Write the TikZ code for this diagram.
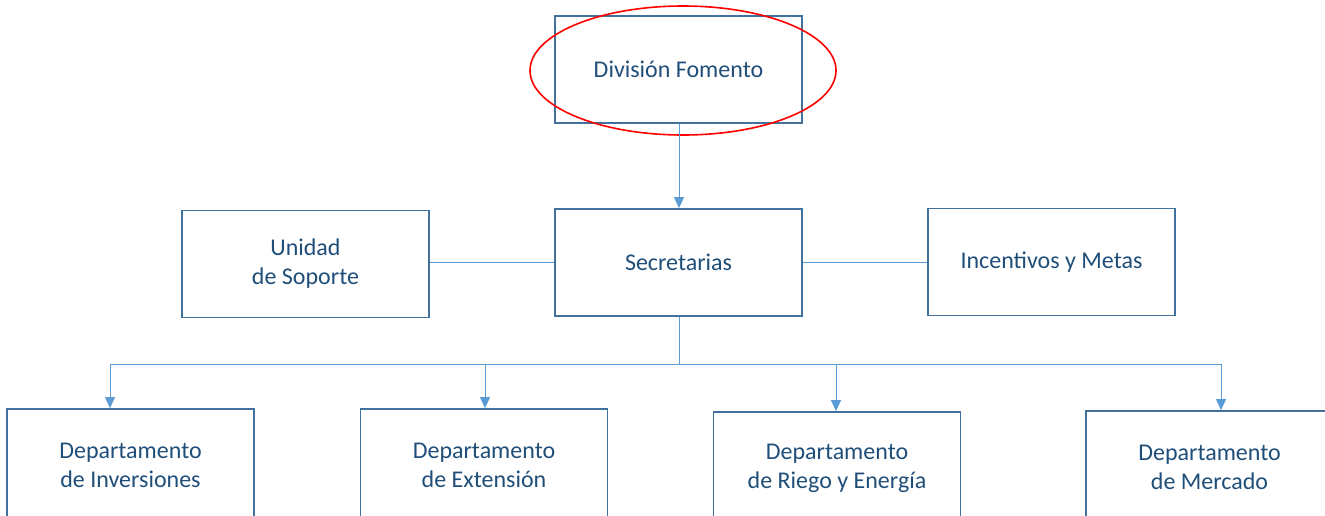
\documentclass[tikz,border=0pt]{standalone}
\usepackage{fontspec}
\setmainfont{Carlito}
\usetikzlibrary{shapes.geometric,arrows.meta}
\definecolor{boxborder}{HTML}{41719C}
\definecolor{linkblue}{HTML}{5B9BD5}
\definecolor{txtblue}{HTML}{1F4E79}
\begin{document}
\begin{tikzpicture}[x=1pt,y=-1pt,
  orgbox/.style={draw=boxborder, line width=1.8pt, minimum width=247pt, minimum height=107pt,
    inner sep=0pt, align=center, text=txtblue, font=\fontsize{24}{29}\selectfont},
  deptbox/.style={orgbox, minimum height=112pt},
  link/.style={draw=linkblue, line width=1pt},
  arr/.style={link, -{Triangle[width=10pt,length=11pt]}}]
\useasboundingbox (0,0) rectangle (1325,515);
\clip (0,0) rectangle (1325,515);
\node[orgbox] (top) at (678.5,69.5) {División Fomento};
\node[orgbox] (sec) at (678.5,262.5) {Secretarias};
\node[orgbox] (uni) at (305.5,264) {Unidad\\de Soporte};
\node[orgbox] (inc) at (1051.5,262) {Incentivos y Metas};
\node[deptbox] (d1) at (130.5,465) {Departamento\\de Inversiones};
\node[deptbox] (d2) at (484,465) {Departamento\\de Extensión};
\node[deptbox] (d3) at (837,468) {Departamento\\de Riego y Energía};
\node[deptbox] (d4) at (1209.5,467) {Departamento\\de Mercado};
\node[draw=red, line width=1.6pt, ellipse, minimum width=306pt, minimum height=129pt, inner sep=0pt] (hl) at (683,70.5) {};
\coordinate (bus) at (679,364);
\draw[arr] (top.south -| 679,0) -- (sec.north -| 679,0);
\draw[link] (uni.east |- 0,262) -- (sec.west |- 0,262);
\draw[link] (sec.east |- 0,262) -- (inc.west |- 0,262);
\draw[link] (sec.south -| bus) -- (bus);
\draw[arr] (bus) -| (d1.north -| 110,0);
\draw[arr] (bus) -| (d2.north -| 485,0);
\draw[arr] (bus) -| (d3.north -| 836,0);
\draw[arr] (bus) -| (d4.north -| 1221,0);
\end{tikzpicture}
\end{document}
